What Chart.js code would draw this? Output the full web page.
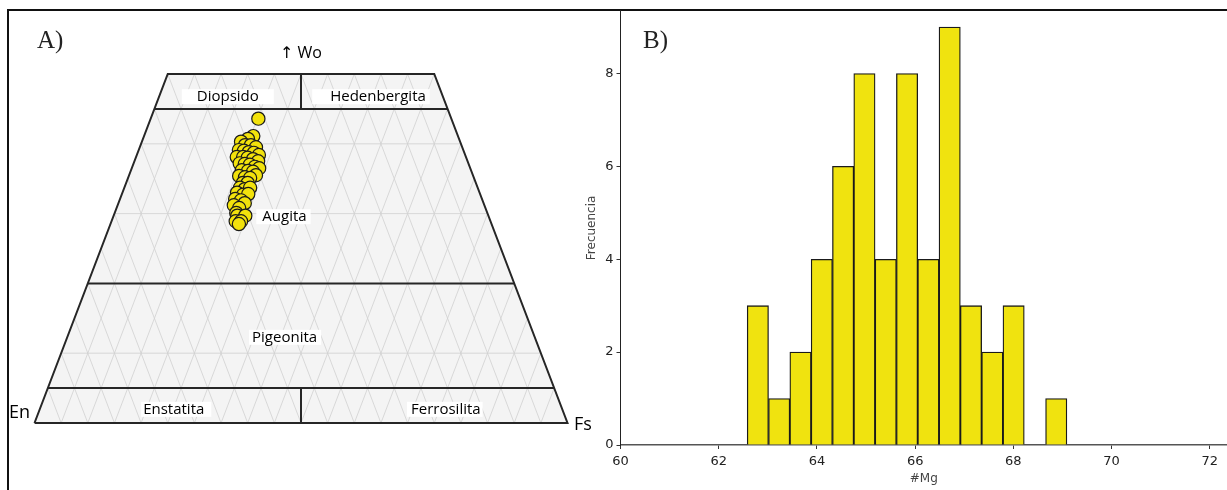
<!DOCTYPE html>
<html>
<head>
<meta charset="utf-8">
<script src="https://cdn.jsdelivr.net/npm/chart.js@4.4.1/dist/chart.umd.min.js"></script>
<style>
  html, body { margin: 0; padding: 0; background: #fff; }
  #wrap { position: relative; width: 1227px; height: 490px; overflow: hidden; }
  #frame { position: absolute; left: 7px; top: 9px; width: 1260px; height: 520px;
           border-left: 2px solid #111; border-top: 2px solid #111; }
  #tern { position: absolute; left: 0; top: 0; }
  #hist { position: absolute; left: 560px; top: 0; }
</style>
</head>
<body>
<div id="wrap">
  <div id="frame"></div>
  <canvas id="tern" width="600" height="490"></canvas>
  <canvas id="hist" width="667" height="490"></canvas>
</div>
<script>
// ---- A) pyroxene analyses (mol %) ----
const wo = [43.6,41.1,40.7,40.3,39.8,39.8,39.5,39.1,39.0,38.8,38.7,38.4,38.1,38.1,38.0,37.8,
            37.5,37.2,37.1,37.0,36.7,36.5,36.2,36.1,36.0,35.5,35.4,35.2,35.1,34.4,34.4,33.7,
            33.5,33.7,33.0,32.7,32.8,32.1,31.9,31.5,31.2,30.8,30.1,29.7,29.7,28.9,28.9,28.5];
const en = [36.2,38.4,39.6,41.1,40.6,39.5,38.7,42.1,41.2,40.4,39.5,38.7,43.0,41.8,41.0,40.1,
            39.3,42.9,42.0,41.1,40.3,39.6,43.0,41.9,41.0,40.7,43.9,42.9,42.0,43.7,42.8,44.6,
            43.8,42.7,45.5,44.5,43.5,46.3,45.3,44.8,47.0,46.2,47.1,47.1,45.6,47.8,46.8,47.4];
const fs = [20.2,20.5,19.7,18.6,19.6,20.7,21.8,18.8,19.8,20.8,21.8,22.9,18.9,20.1,21.0,22.1,
            23.2,19.9,20.9,21.9,23.0,23.9,20.8,22.0,23.0,23.8,20.7,21.9,22.9,21.9,22.8,21.7,
            22.7,23.6,21.5,22.8,23.7,21.6,22.8,23.7,21.8,23.0,22.8,23.2,24.7,23.3,24.3,24.1];

// Field names of the pyroxene quadrilateral
const fieldNames = ['Diopsido', 'Hedenbergita', 'Augita', 'Pigeonita', 'Enstatita', 'Ferrosilita'];
const endMembers = ['↑ Wo', 'En', 'Fs'];

// ---- B) #Mg histogram ----
const binCenters = [62.797,63.231,63.665,64.099,64.533,64.967,65.401,65.835,
                    66.269,66.703,67.137,67.571,68.005,68.439,68.873];
const counts     = [3,1,2,4,6,8,4,8,4,9,3,2,3,0,1];
const xTicks = [60,62,64,66,68,70,72];
const yTicks = [0,2,4,6,8];

// ternary (Wo, En, Fs) -> plane: x along En–Fs base, y = Wo
function ternXY(w, e, f) {
  const s = w + e + f;
  return { x: (f + w / 2) * 100 / s, y: w * 100 / s };
}
const GAP = { x: null, y: null };
const wpt = (w, f) => ternXY(w, 100 - w - f, f);

// quadrilateral outline and field boundaries
const outline = [wpt(0, 0), wpt(0, 100), wpt(50, 50), wpt(50, 0), wpt(0, 0)];
const boundaries = [
  wpt(45, 0), wpt(45, 55), GAP,
  wpt(20, 0), wpt(20, 80), GAP,
  wpt(5, 0),  wpt(5, 95),  GAP,
  ternXY(45, 27.5, 27.5), ternXY(50, 25, 25), GAP,
  ternXY(0, 50, 50), ternXY(5, 47.5, 47.5)
];

// light reference grid
const gridStep = 5;
const grid = [];
for (let f = gridStep; f < 100; f += gridStep) {
  const top = Math.min(50, 100 - f);
  grid.push(wpt(0, f), wpt(top, f), GAP);
}
for (let e = gridStep; e < 100; e += gridStep) {
  const top = Math.min(50, 100 - e);
  grid.push(wpt(0, 100 - e), wpt(top, 100 - e - top), GAP);
}
[10, 30, 40].forEach(w => grid.push(wpt(w, 0), wpt(w, 100 - w), GAP));

const samples = wo.map((w, i) => ternXY(w, en[i], fs[i]));

const fieldLabelPos = [
  { x: 36.27, y: 46.75, pl: 15, pr: 15 },
  { x: 64.45, y: 46.75, pl: 18, pr: 4 },
  { x: 46.90, y: 29.56, pl: 6,  pr: 4 },
  { x: 46.92, y: 12.28, pl: 3,  pr: 4 },
  { x: 26.12, y: 1.96,  pl: 2,  pr: 7 },
  { x: 77.17, y: 1.96,  pl: 4,  pr: 2 }
];

const ternDecor = {
  id: 'ternDecor',
  beforeDatasetsDraw(chart) {
    const { ctx, scales: { x, y } } = chart;
    ctx.save();
    ctx.beginPath();
    outline.forEach((p, i) => {
      const px = x.getPixelForValue(p.x), py = y.getPixelForValue(p.y);
      i ? ctx.lineTo(px, py) : ctx.moveTo(px, py);
    });
    ctx.closePath();
    ctx.fillStyle = '#f4f4f4';
    ctx.fill();
    ctx.restore();
  },
  afterDatasetsDraw(chart) {
    const { ctx, scales: { x, y } } = chart;
    ctx.save();
    ctx.font = '15px "Open Sans", "Noto Sans", sans-serif';
    ctx.textBaseline = 'middle';
    ctx.textAlign = 'center';
    fieldNames.forEach((t, i) => {
      const p = fieldLabelPos[i];
      const cx = x.getPixelForValue(p.x), cy = y.getPixelForValue(p.y);
      const w = ctx.measureText(t).width;
      ctx.fillStyle = '#fff';
      ctx.fillRect(cx - w / 2 - p.pl, cy - 7.5, w + p.pl + p.pr, 15);
      ctx.fillStyle = '#000';
      ctx.fillText(t, cx, cy + 0.5);
    });
    ctx.fillStyle = '#000';
    ctx.font = '16px "Open Sans", "DejaVu Sans", sans-serif';
    ctx.fillText(endMembers[0], x.getPixelForValue(50), y.getPixelForValue(52.97));
    ctx.font = '18px "Open Sans", sans-serif';
    ctx.textAlign = 'right';
    ctx.fillText(endMembers[1], x.getPixelForValue(-0.84), y.getPixelForValue(1.43));
    ctx.textAlign = 'left';
    ctx.fillText(endMembers[2], x.getPixelForValue(101.2), y.getPixelForValue(-0.3));
    ctx.font = '25px "Liberation Serif", serif';
    ctx.textBaseline = 'alphabetic';
    ctx.fillStyle = '#222';
    ctx.fillText('A)', 37, 48);
    ctx.restore();
  }
};

new Chart(document.getElementById('tern'), {
  type: 'scatter',
  data: {
    datasets: [
      { data: samples, order: 0, clip: false, pointRadius: 6.6, pointHoverRadius: 6.6,
        backgroundColor: '#f2e20c', borderColor: '#1a1a1a', borderWidth: 1.2 },
      { data: outline, order: 1, clip: false, showLine: true, pointRadius: 0,
        borderColor: '#262626', borderWidth: 2, spanGaps: false },
      { data: boundaries, order: 2, clip: false, showLine: true, pointRadius: 0,
        borderColor: '#262626', borderWidth: 2, spanGaps: false },
      { data: grid, order: 3, clip: false, showLine: true, pointRadius: 0,
        borderColor: '#d0d0d0', borderWidth: 0.8, spanGaps: false }
    ]
  },
  options: {
    responsive: false, animation: false, events: [],
    layout: { padding: { left: 34.5, right: 32.5, top: 74, bottom: 67 } },
    plugins: { legend: { display: false }, tooltip: { enabled: false } },
    scales: {
      x: { type: 'linear', min: 0, max: 100, display: false },
      y: { type: 'linear', min: 0, max: 50, display: false }
    }
  },
  plugins: [ternDecor]
});

const histDecor = {
  id: 'histDecor',
  afterDraw(chart) {
    const { ctx } = chart;
    ctx.save();
    ctx.font = '25px "Liberation Serif", serif';
    ctx.fillStyle = '#222';
    ctx.fillText('B)', 83, 48);
    ctx.restore();
  }
};

const tickFont = { family: 'DejaVu Sans', size: 13 };
new Chart(document.getElementById('hist'), {
  type: 'bar',
  data: {
    datasets: [{
      data: binCenters.map((c, i) => ({ x: c, y: counts[i] })),
      backgroundColor: '#f0e30f', borderColor: '#1a1a1a', borderWidth: 1.3,
      barPercentage: 1, categoryPercentage: 1
    }]
  },
  options: {
    responsive: false, animation: false, events: [],
    layout: { padding: { left: 21, right: 0, top: 0, bottom: 0 } },
    plugins: { legend: { display: false }, tooltip: { enabled: false } },
    scales: {
      x: {
        type: 'linear', min: 60, max: 72.35, offset: false,
        afterFit: s => { s.height = 45; },
        afterBuildTicks: s => { s.ticks = xTicks.map(v => ({ value: v })); },
        ticks: { color: '#222', font: tickFont, padding: 5, maxRotation: 0, autoSkip: false },
        grid: { drawOnChartArea: false, drawTicks: true, tickLength: 4, color: '#333', offset: false },
        border: { display: true, color: '#555', width: 1.5 },
        title: { display: true, text: '#Mg', color: '#444', font: { family: 'DejaVu Sans', size: 12 } }
      },
      y: {
        type: 'linear', min: 0, max: 9.35,
        afterFit: s => { s.width = 39.5; },
        afterBuildTicks: s => { s.ticks = yTicks.map(v => ({ value: v })); },
        ticks: { color: '#222', font: tickFont, padding: 3 },
        grid: { drawOnChartArea: false, drawTicks: true, tickLength: 4, color: '#333' },
        border: { display: true, color: '#222', width: 1 },
        title: { display: true, text: 'Frecuencia', color: '#444', font: { family: 'DejaVu Sans', size: 12 } }
      }
    }
  },
  plugins: [histDecor]
});
</script>
</body>
</html>
